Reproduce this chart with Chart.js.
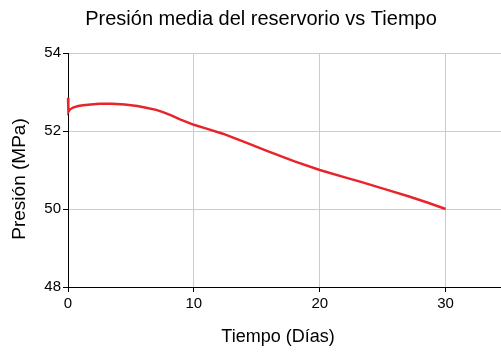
<!DOCTYPE html>
<html>
<head>
<meta charset="utf-8">
<script src="https://cdn.jsdelivr.net/npm/chart.js@4.4.1/dist/chart.umd.min.js"></script>
<style>
  html, body { margin: 0; padding: 0; background: #ffffff; }
  #wrap { width: 501px; height: 352px; position: relative; }
</style>
</head>
<body>
<div id="wrap"><canvas id="c"></canvas></div>
<script>
// Tiempo (días) y presión media del reservorio (MPa)
const dias = [0, 0.03, 0.15, 0.4, 0.8, 1.2, 1.8, 2.5, 3.5, 4.5, 5.5, 6.3, 7.0, 7.6, 8.2, 8.9, 10, 11, 12.3, 14, 15.8, 18, 20, 22, 23.2, 25.5, 27.1, 28.6, 30];
const presion = [52.85, 52.49, 52.55, 52.60, 52.64, 52.66, 52.68, 52.70, 52.70, 52.68, 52.64, 52.59, 52.54, 52.48, 52.40, 52.30, 52.16, 52.06, 51.93, 51.72, 51.49, 51.22, 51.00, 50.81, 50.70, 50.48, 50.32, 50.16, 50.00];

const titulo = 'Presión media del reservorio vs Tiempo';
const tituloX = 'Tiempo (Días)';
const tituloY = 'Presión (MPa)';
const ticksX = [0, 10, 20, 30];
const ticksY = [48, 50, 52, 54];

const FONT = '"Liberation Sans", Arial, sans-serif';

// Titles of the chart and axes, placed around the plotting area
const titulos = {
  id: 'titulos',
  afterDraw(chart) {
    const ctx = chart.ctx;
    ctx.save();
    ctx.fillStyle = '#000';
    ctx.textAlign = 'center';
    ctx.textBaseline = 'middle';
    ctx.font = '20px ' + FONT;
    ctx.fillText(titulo, 261, 19);
    ctx.font = '18px ' + FONT;
    ctx.fillText(tituloX, 278, 337);
    ctx.translate(20, 179);
    ctx.rotate(-Math.PI / 2);
    ctx.font = '19px ' + FONT;
    ctx.fillText(tituloY, 0, 0);
    ctx.restore();
  }
};

new Chart(document.getElementById('c'), {
  type: 'line',
  data: {
    datasets: [{
      data: dias.map((d, i) => ({ x: d, y: presion[i] })),
      borderColor: '#e8232a',
      borderWidth: 2.4,
      pointRadius: 0,
      fill: false,
      tension: 0,
      clip: false
    }]
  },
  options: {
    responsive: true,
    maintainAspectRatio: false,
    animation: false,
    layout: { padding: { top: 53, right: 0, bottom: 0, left: 0 } },
    plugins: {
      legend: { display: false },
      title: { display: false },
      tooltip: { enabled: false }
    },
    scales: {
      x: {
        type: 'linear',
        min: 0,
        max: 34.4,
        afterFit(scale) { scale.height = 65; },
        afterBuildTicks(scale) { scale.ticks = ticksX.map(v => ({ value: v })); },
        ticks: {
          color: '#000',
          font: { family: FONT, size: 15 },
          padding: 3,
          maxRotation: 0
        },
        grid: { color: '#cccccc', lineWidth: 1, tickColor: '#000', tickLength: 5 },
        border: { color: '#000', width: 1 }
      },
      y: {
        type: 'linear',
        min: 48,
        max: 54,
        afterFit(scale) { scale.width = 68; },
        afterBuildTicks(scale) { scale.ticks = ticksY.map(v => ({ value: v })); },
        ticks: {
          color: '#000',
          font: { family: FONT, size: 15 },
          padding: 2
        },
        grid: { color: '#cccccc', lineWidth: 1, tickColor: '#000', tickLength: 5 },
        border: { color: '#000', width: 1 }
      }
    }
  },
  plugins: [titulos]
});
</script>
</body>
</html>
